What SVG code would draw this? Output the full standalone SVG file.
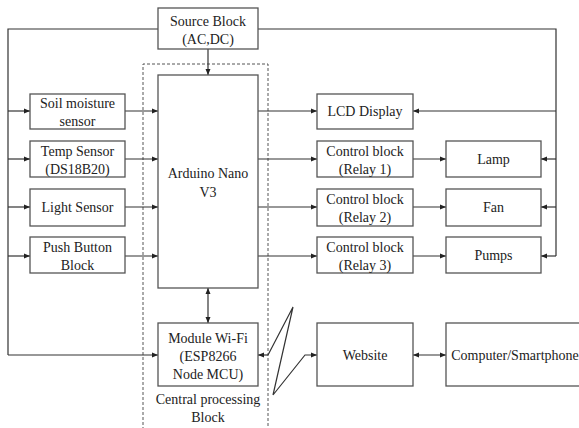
<svg xmlns="http://www.w3.org/2000/svg" width="579" height="428" viewBox="0 0 579 428" font-family="Liberation Serif, Times New Roman, serif">
  <style>
    .box { fill: #fff; stroke: #555; stroke-width: 1.3; }
    .line { fill: none; stroke: #333; stroke-width: 1.2; }
    .dash { fill: none; stroke: #555; stroke-width: 1; stroke-dasharray: 3 2; }
    text { font-size: 14px; fill: #222; text-anchor: middle; }
  </style>
  <defs>
    <marker id="arr" viewBox="0 0 6 6" refX="6" refY="3" markerWidth="6" markerHeight="6" markerUnits="userSpaceOnUse" orient="auto-start-reverse">
      <path d="M0,0.5 L6,3 L0,5.5 Z" fill="#222"/>
    </marker>
  </defs>
  <rect width="579" height="428" fill="#fff"/>

  <!-- central processing area -->
  <g id="central-processing">
    <path class="dash" d="M143,430 V64 H268 V430"/>
    <text x="208" y="404">Central processing</text>
    <text x="208" y="422">Block</text>
  </g>

  <g id="connectors">
    <!-- power distribution -->
    <path class="line" d="M158,29 H8 V355"/>
    <path class="line" d="M258,29 H556 V256"/>
    <path class="line" d="M208,49 V75" marker-end="url(#arr)"/>
    <!-- left bus into sensors and Wi-Fi module -->
    <path class="line" d="M8,111 H30" marker-end="url(#arr)"/>
    <path class="line" d="M8,159 H30" marker-end="url(#arr)"/>
    <path class="line" d="M8,207 H30" marker-end="url(#arr)"/>
    <path class="line" d="M8,256 H30" marker-end="url(#arr)"/>
    <path class="line" d="M8,355 H158" marker-end="url(#arr)"/>
    <!-- sensors into controller -->
    <path class="line" d="M125,111 H158" marker-end="url(#arr)"/>
    <path class="line" d="M125,159 H158" marker-end="url(#arr)"/>
    <path class="line" d="M125,207 H158" marker-end="url(#arr)"/>
    <path class="line" d="M125,256 H158" marker-end="url(#arr)"/>
    <!-- controller outputs -->
    <path class="line" d="M258,111 H317" marker-end="url(#arr)"/>
    <path class="line" d="M258,159 H317" marker-end="url(#arr)"/>
    <path class="line" d="M258,207 H317" marker-end="url(#arr)"/>
    <path class="line" d="M258,256 H317" marker-end="url(#arr)"/>
    <!-- relays to loads -->
    <path class="line" d="M413,159 H446" marker-end="url(#arr)"/>
    <path class="line" d="M413,207 H446" marker-end="url(#arr)"/>
    <path class="line" d="M413,256 H446" marker-end="url(#arr)"/>
    <!-- right bus into display and loads -->
    <path class="line" d="M556,111 H413" marker-end="url(#arr)"/>
    <path class="line" d="M556,159 H541" marker-end="url(#arr)"/>
    <path class="line" d="M556,207 H541" marker-end="url(#arr)"/>
    <path class="line" d="M556,256 H541" marker-end="url(#arr)"/>
    <!-- controller to Wi-Fi -->
    <path class="line" d="M208,288 V323" marker-start="url(#arr)" marker-end="url(#arr)"/>
    <!-- wireless link -->
    <path class="line" d="M268,355 L293,307 L273,395 L305,355 L317,355" marker-end="url(#arr)"/>
    <path class="line" d="M268,355 H258" marker-end="url(#arr)"/>
    <!-- website to device -->
    <path class="line" d="M413,355 H446" marker-start="url(#arr)" marker-end="url(#arr)"/>
  </g>

  <g id="source-block">
    <rect class="box" x="158" y="8" width="100" height="41"/>
    <text x="208" y="26">Source Block</text>
    <text x="208" y="44">(AC,DC)</text>
  </g>
  <g id="arduino">
    <rect class="box" x="158" y="75" width="100" height="213"/>
    <text x="208" y="178">Arduino Nano</text>
    <text x="208" y="197">V3</text>
  </g>
  <g id="soil-sensor">
    <rect class="box" x="30" y="94" width="95" height="35"/>
    <text x="77.5" y="108">Soil moisture</text>
    <text x="77.5" y="126">sensor</text>
  </g>
  <g id="temp-sensor">
    <rect class="box" x="30" y="141" width="95" height="36"/>
    <text x="77.5" y="156">Temp Sensor</text>
    <text x="77.5" y="174">(DS18B20)</text>
  </g>
  <g id="light-sensor">
    <rect class="box" x="30" y="189" width="95" height="37"/>
    <text x="77.5" y="212">Light Sensor</text>
  </g>
  <g id="push-button">
    <rect class="box" x="30" y="237" width="95" height="36"/>
    <text x="77.5" y="252">Push Button</text>
    <text x="77.5" y="270">Block</text>
  </g>
  <g id="lcd">
    <rect class="box" x="317" y="94" width="96" height="35"/>
    <text x="365" y="116">LCD Display</text>
  </g>
  <g id="relay-1">
    <rect class="box" x="317" y="141" width="96" height="36"/>
    <text x="365" y="156">Control block</text>
    <text x="365" y="174">(Relay 1)</text>
  </g>
  <g id="relay-2">
    <rect class="box" x="317" y="189" width="96" height="37"/>
    <text x="365" y="204">Control block</text>
    <text x="365" y="222">(Relay 2)</text>
  </g>
  <g id="relay-3">
    <rect class="box" x="317" y="237" width="96" height="36"/>
    <text x="365" y="252">Control block</text>
    <text x="365" y="270">(Relay 3)</text>
  </g>
  <g id="lamp">
    <rect class="box" x="446" y="141" width="95" height="36"/>
    <text x="493.5" y="164">Lamp</text>
  </g>
  <g id="fan">
    <rect class="box" x="446" y="189" width="95" height="37"/>
    <text x="493.5" y="212">Fan</text>
  </g>
  <g id="pumps">
    <rect class="box" x="446" y="237" width="95" height="36"/>
    <text x="493.5" y="260">Pumps</text>
  </g>
  <g id="wifi-module">
    <rect class="box" x="158" y="323" width="100" height="63"/>
    <text x="208" y="343">Module Wi-Fi</text>
    <text x="208" y="361">(ESP8266</text>
    <text x="208" y="379">Node MCU)</text>
  </g>
  <g id="website">
    <rect class="box" x="317" y="323" width="96" height="63"/>
    <text x="365" y="360">Website</text>
  </g>
  <g id="computer">
    <rect class="box" x="446" y="323" width="150" height="63"/>
    <text x="515" y="360">Computer/Smartphone</text>
  </g>
</svg>
